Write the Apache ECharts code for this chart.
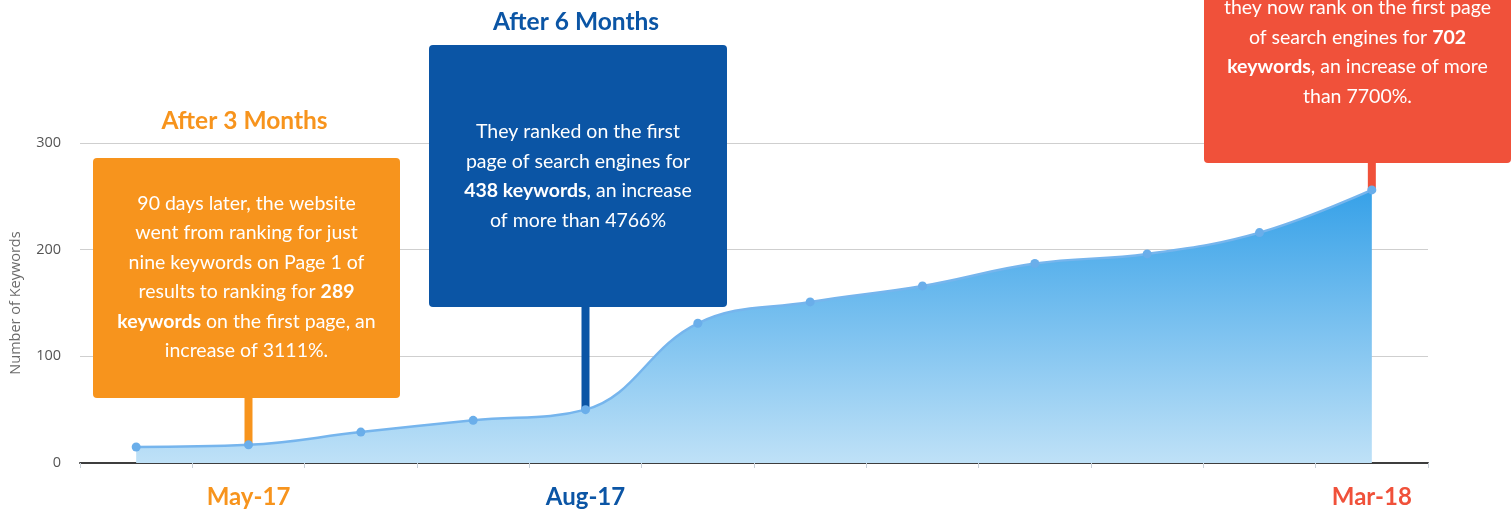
<!DOCTYPE html>
<html>
<head>
<meta charset="utf-8">
<script src="https://cdn.jsdelivr.net/npm/echarts@6/dist/echarts.min.js"></script>
<style>
  html, body { margin: 0; padding: 0; background: #fff; }
  #chart { width: 1512px; height: 510px; }
</style>
</head>
<body>
<div id="chart"></div>
<script>
var months = ['Apr-17', 'May-17', 'Jun-17', 'Jul-17', 'Aug-17', 'Sep-17', 'Oct-17', 'Nov-17', 'Dec-17', 'Jan-18', 'Feb-18', 'Mar-18']
var keywords = [15, 17, 29, 40, 50, 131, 151, 166, 187, 196, 216, 256]
var yTicks = [0, 100, 200, 300]
var shownMonths = ['May-17', 'Aug-17', 'Mar-18']

var orange = '#f7941d'
var blue = '#0b55a5'
var red = '#f0513a'
var font = 'Lato'

var callouts = [
  {
    month: 'May-17',
    title: 'After 3 Months',
    lines: [
      '90 days later, the website',
      'went from ranking for just',
      'nine keywords on Page 1 of',
      'results to ranking for {b|289}',
      '{b|keywords} on the first page, an',
      'increase of 3111%.'
    ]
  },
  {
    month: 'Aug-17',
    title: 'After 6 Months',
    lines: [
      'They ranked on the first',
      'page of search engines for',
      '{b|438 keywords}, an increase',
      'of more than 4766%'
    ]
  },
  {
    month: 'Mar-18',
    title: '',
    lines: [
      'they now rank on the first page',
      'of search engines for {b|702}',
      '{b|keywords}, an increase of more',
      'than 7700%.'
    ]
  }
]

// box layout for each callout (pixels), same order as callouts
var boxes = [
  {x: 93, y: 158, w: 307, h: 240, color: orange, textY: 277, titleY: 121},
  {x: 429, y: 45, w: 298, h: 262, color: blue, textY: 176, titleY: 22},
  {x: 1204, y: -60, w: 307, h: 223, color: red, textY: 52, titleY: -80}
]

var labelColors = {'May-17': orange, 'Aug-17': blue, 'Mar-18': red}

var myChart = echarts.init(document.getElementById('chart'))

var option = {
  animation: false,
  grid: {
    left: 78,
    right: 84,
    top: 143,
    bottom: 47,
    containLabel: false
  },
  xAxis: {
    type: 'category',
    data: months,
    boundaryGap: true,
    axisLine: {
      lineStyle: {color: '#3d3d3d', width: 2}
    },
    axisTick: {
      show: true,
      length: 5,
      lineStyle: {color: '#c8d0d8'}
    },
    axisLabel: {
      interval: 0,
      margin: 22,
      formatter: function(val) {
        if (shownMonths.indexOf(val) < 0) return ''
        return '{' + val.replace('-', '') + '|' + val + '}'
      },
      rich: {
        May17: {color: labelColors['May-17'], fontSize: 24, fontWeight: 'bold', fontFamily: font},
        Aug17: {color: labelColors['Aug-17'], fontSize: 24, fontWeight: 'bold', fontFamily: font},
        Mar18: {color: labelColors['Mar-18'], fontSize: 24, fontWeight: 'bold', fontFamily: font}
      }
    },
    splitLine: {show: false}
  },
  yAxis: {
    type: 'value',
    min: yTicks[0],
    max: yTicks[yTicks.length - 1],
    interval: yTicks[1] - yTicks[0],
    name: 'Number of Keywords',
    nameLocation: 'middle',
    nameGap: 57,
    nameTextStyle: {color: '#6b6b6b', fontSize: 14.5, fontFamily: 'Open Sans'},
    axisLine: {show: false},
    axisTick: {show: false},
    axisLabel: {color: '#555', fontSize: 14.5, fontFamily: 'Open Sans', margin: 19},
    splitLine: {
      lineStyle: {color: '#cfcfcf', width: 1}
    }
  },
  series: [
    {
      name: 'Keywords',
      type: 'line',
      data: keywords,
      smooth: 0.4,
      symbol: 'circle',
      symbolSize: 9,
      z: 3,
      itemStyle: {color: '#6aaeea'},
      lineStyle: {color: '#76b5ed', width: 2.5},
      areaStyle: {
        opacity: 1,
        color: new echarts.graphic.LinearGradient(0, 0, 0, 1, [
          {offset: 0, color: '#36a1e8'},
          {offset: 1, color: '#bfe1f7'}
        ])
      }
    }
  ]
}

myChart.setOption(option)

// callout boxes, titles and stems down to the data point
var graphics = []
callouts.forEach(function(c, i) {
  var b = boxes[i]
  var idx = months.indexOf(c.month)
  var pt = myChart.convertToPixel({gridIndex: 0}, [idx, keywords[idx]])
  var cx = b.x + b.w / 2
  graphics.push({
    type: 'rect',
    z: 1,
    shape: {x: pt[0] - 4, y: b.y + b.h - 2, width: 8, height: pt[1] - (b.y + b.h) + 2},
    style: {fill: b.color}
  })
  graphics.push({
    type: 'rect',
    z: 10,
    shape: {x: b.x, y: b.y, width: b.w, height: b.h, r: 4},
    style: {fill: b.color}
  })
  graphics.push({
    type: 'text',
    z: 11,
    x: cx,
    y: b.textY,
    style: {
      text: c.lines.join('\n'),
      textAlign: 'center',
      textVerticalAlign: 'middle',
      fill: '#fff',
      fontSize: 19.5,
      fontFamily: font,
      lineHeight: 29.5,
      rich: {
        b: {fill: '#fff', fontSize: 19.5, fontFamily: font, fontWeight: 'bold', lineHeight: 29.5}
      }
    }
  })
  if (c.title) {
    graphics.push({
      type: 'text',
      z: 11,
      x: cx - 2,
      y: b.titleY,
      style: {
        text: c.title,
        textAlign: 'center',
        textVerticalAlign: 'middle',
        fill: b.color,
        fontSize: 24.5,
        fontWeight: 'bold',
        fontFamily: font
      }
    })
  }
})

myChart.setOption({graphic: {elements: graphics}})
</script>
</body>
</html>
